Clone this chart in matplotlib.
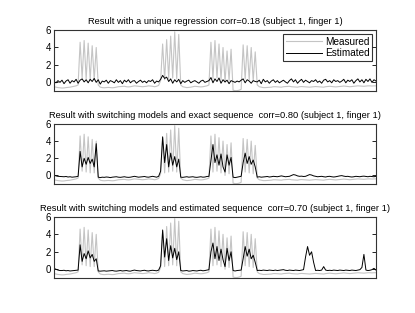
import numpy as np
import matplotlib
matplotlib.use("Agg")
import matplotlib.pyplot as plt

plt.rcParams["font.family"] = ["Liberation Sans", "DejaVu Sans"]

titles = [
    "Result with a unique regression corr=0.18 (subject 1, finger 1)",
    "Result with switching models and exact sequence  corr=0.80 (subject 1, finger 1)",
    "Result with switching models and estimated sequence  corr=0.70 (subject 1, finger 1)",
]

measured = [
    -0.50, -0.55, -0.60, -0.62, -0.65, -0.64, -0.60, -0.58, -0.55, -0.50,
    -0.45, -0.40, -0.30, 4.60, 0.50, 4.80, 0.40, 4.50, 0.30, 4.20,
    0.30, 4.00, -0.30, -0.55, -0.60, -0.62, -0.60, -0.58, -0.60, -0.62,
    -0.60, -0.55, -0.50, -0.48, -0.45, -0.45, -0.50, -0.52, -0.50, -0.45,
    -0.40, -0.42, -0.45, -0.48, -0.50, -0.48, -0.45, -0.40, -0.42, -0.45,
    -0.50, -0.45, -0.35, 0.20, 4.40, 0.30, 4.90, 0.40, 5.30, 0.50,
    5.80, 0.40, 5.50, -0.30, -0.50, -0.55, -0.60, -0.58, -0.55, -0.50,
    -0.45, -0.48, -0.50, -0.52, -0.50, -0.45, -0.40, -0.30, 4.60, 0.40,
    4.80, 0.50, 4.40, 0.30, 4.00, 0.00, 3.60, 0.20, 3.80, -0.90,
    -0.95, -0.95, -0.90, -0.80, 4.30, 0.40, 4.20, 0.30, 4.00, 0.20,
    3.50, -0.30, -0.50, -0.55, -0.60, -0.60, -0.58, -0.55, -0.55, -0.50,
    -0.50, -0.52, -0.55, -0.55, -0.50, -0.48, -0.45, -0.45, -0.50, -0.52,
    -0.55, -0.55, -0.50, -0.48, -0.50, -0.52, -0.55, -0.55, -0.52, -0.50,
    -0.48, -0.50, -0.52, -0.55, -0.55, -0.50, -0.48, -0.45, -0.48, -0.50,
    -0.52, -0.50, -0.48, -0.45, -0.42, -0.45, -0.48, -0.50, -0.48, -0.45,
    -0.42, -0.40, -0.42, -0.45, -0.45, -0.42, -0.40, -0.40, -0.42, -0.40,
    -0.40,
]

est_unique = [
    0.10, -0.05, 0.20, 0.00, 0.25, -0.15, 0.15, 0.30, -0.10, 0.20,
    0.05, 0.35, -0.10, 0.25, 0.40, 0.05, 0.30, -0.05, 0.35, 0.10,
    0.45, 0.00, 0.30, -0.20, 0.15, 0.05, 0.25, -0.10, 0.20, 0.10,
    -0.05, 0.30, 0.00, 0.20, -0.15, 0.25, 0.05, 0.30, -0.05, 0.15,
    0.20, -0.10, 0.10, 0.25, 0.00, 0.15, -0.05, 0.20, 0.10, 0.30,
    -0.10, 0.15, 0.05, 0.35, 0.80, 0.45, 0.60, 0.10, 0.40, -0.10,
    0.30, 0.05, 0.35, -0.15, 0.20, 0.00, 0.15, 0.25, -0.05, 0.10,
    0.20, 0.05, -0.10, 0.15, 0.25, 0.00, 0.10, 0.20, 0.55, -0.05,
    0.40, 0.10, 0.50, -0.10, 0.30, 0.05, 0.25, -0.15, 0.20, 0.10,
    0.00, 0.15, 0.05, 0.25, 0.40, -0.05, 0.30, 0.15, -0.10, 0.20,
    0.10, 0.05, 0.25, -0.15, 0.35, 0.05, 0.20, -0.10, 0.15, 0.30,
    0.00, 0.20, -0.05, 0.10, 0.25, 0.05, -0.10, 0.20, 0.40, 0.05,
    0.30, -0.10, 0.15, 0.35, 0.00, 0.25, 0.10, -0.05, 0.20, 0.10,
    0.30, 0.00, 0.15, -0.10, 0.25, 0.35, 0.05, 0.20, -0.05, 0.30,
    0.10, 0.20, 0.00, 0.15, 0.35, -0.05, 0.25, 0.10, 0.30, -0.10,
    0.20, 0.40, 0.05, 0.30, -0.05, 0.35, 0.10, 0.40, 0.00, 0.30,
    0.15,
]

est_exact = [
    0.05, -0.05, -0.10, -0.12, -0.15, -0.15, -0.12, -0.18, -0.15, -0.20,
    -0.18, -0.15, -0.10, 2.80, 1.00, 2.00, 1.30, 2.10, 1.40, 1.90,
    1.00, 3.70, -0.20, -0.25, -0.20, -0.22, -0.18, -0.20, -0.25, -0.20,
    -0.18, -0.15, -0.20, -0.22, -0.18, -0.15, -0.20, -0.22, -0.20, -0.15,
    -0.10, -0.15, -0.20, -0.18, -0.15, -0.12, -0.18, -0.20, -0.15, -0.10,
    -0.15, -0.20, -0.10, 0.50, 4.50, 1.50, 3.60, 1.00, 2.60, 1.20,
    2.20, 1.00, 1.90, -0.20, -0.22, -0.18, -0.15, -0.20, -0.18, -0.15,
    -0.20, -0.22, -0.18, -0.15, -0.20, -0.18, -0.12, -0.10, 1.80, 3.60,
    1.50, 2.40, 1.20, 2.50, 1.00, 0.40, 2.40, 1.20, 2.10, -0.20,
    -0.25, -0.20, -0.15, -0.10, 1.50, 2.60, 1.40, 2.20, 1.30, 1.80,
    1.00, -0.20, -0.15, -0.20, -0.18, -0.15, -0.12, -0.18, -0.15, -0.10,
    -0.12, -0.15, -0.10, -0.05, -0.10, -0.15, -0.12, -0.10, 0.00, 0.10,
    0.05, -0.05, -0.10, -0.08, -0.12, -0.10, 0.00, 0.10, 0.05, -0.05,
    -0.10, -0.15, -0.12, -0.10, -0.15, -0.18, -0.12, -0.10, -0.15, -0.18,
    -0.15, -0.10, -0.05, -0.02, -0.08, -0.12, -0.10, -0.15, -0.18, -0.15,
    -0.10, -0.12, -0.15, -0.10, -0.08, -0.12, -0.15, -0.10, -0.12, -0.15,
    -0.10,
]

est_switch = [
    0.10, 0.00, -0.10, -0.15, -0.15, -0.12, -0.18, -0.15, -0.20, -0.18,
    -0.15, -0.12, -0.10, 2.80, 0.90, 1.80, 1.20, 2.10, 1.30, 1.70,
    0.90, 1.20, -0.20, -0.22, -0.20, -0.18, -0.22, -0.20, -0.18, -0.15,
    -0.20, -0.22, -0.18, -0.15, -0.20, -0.18, -0.15, -0.20, -0.22, -0.15,
    -0.10, -0.15, -0.18, -0.20, -0.15, -0.12, -0.18, -0.20, -0.15, -0.12,
    -0.15, -0.18, -0.10, 0.40, 4.50, 1.40, 3.50, 1.00, 2.70, 1.30,
    2.40, 1.10, 2.00, -0.15, -0.20, -0.18, -0.15, -0.22, -0.20, -0.15,
    -0.18, -0.20, -0.15, -0.12, -0.18, -0.15, -0.10, -0.05, 2.00, 3.00,
    1.20, 2.60, 1.00, 2.30, 1.10, 0.30, 2.40, 1.00, 2.00, -0.15,
    -0.20, -0.15, -0.12, -0.10, 1.20, 2.60, 1.50, 2.30, 1.20, 1.60,
    0.80, -0.15, -0.12, -0.15, -0.10, -0.12, -0.15, -0.10, -0.12, -0.15,
    -0.10, -0.15, -0.12, -0.10, -0.05, -0.12, -0.15, -0.10, -0.12, -0.15,
    -0.10, -0.12, -0.15, -0.10, -0.05, 1.40, 2.60, 1.60, 2.00, 0.80,
    -0.15, -0.12, -0.15, -0.10, 0.30, -0.10, -0.15, -0.12, -0.15, -0.10,
    -0.12, -0.15, -0.10, -0.12, -0.15, -0.10, -0.12, -0.15, -0.10, -0.12,
    -0.15, -0.10, -0.05, 0.20, 1.70, -0.10, -0.15, -0.12, -0.05, 0.10,
    -0.10,
]

estimates = [est_unique, est_exact, est_switch]
x = np.arange(len(measured))

fig = plt.figure(figsize=(4.15, 3.13), dpi=100)
# axes boxes in figure fractions (left, bottom, width, height)
boxes = [(0.130, 0.709, 0.776, 0.195),
         (0.130, 0.412, 0.776, 0.192),
         (0.130, 0.112, 0.776, 0.195)]

for k, (box, est, title) in enumerate(zip(boxes, estimates, titles)):
    ax = fig.add_axes(box)
    ax.plot(x, measured, color="#c4c4c4", lw=0.8, label="Measured")
    ax.plot(x, est, color="black", lw=0.7, label="Estimated")
    ax.set_xlim(0, len(measured) - 1)
    ax.set_ylim(-1, 6)
    ax.set_yticks([0, 2, 4, 6])
    ax.set_xticks([])
    ax.tick_params(axis="y", direction="in", length=3, width=0.6,
                   right=True, labelsize=7, pad=2)
    for s in ax.spines.values():
        s.set_linewidth(0.8)
        s.set_color("#333333")
    ax.set_title(title, fontsize=6.65, pad=4)
    if k == 0:
        leg = ax.legend(loc="upper right", fontsize=7.2, fancybox=False,
                        edgecolor="black", handlelength=3.6, borderaxespad=0.35,
                        labelspacing=0.15, borderpad=0.3, handletextpad=0.3)
        leg.get_frame().set_linewidth(0.8)

fig.savefig("out.png", dpi=100)
